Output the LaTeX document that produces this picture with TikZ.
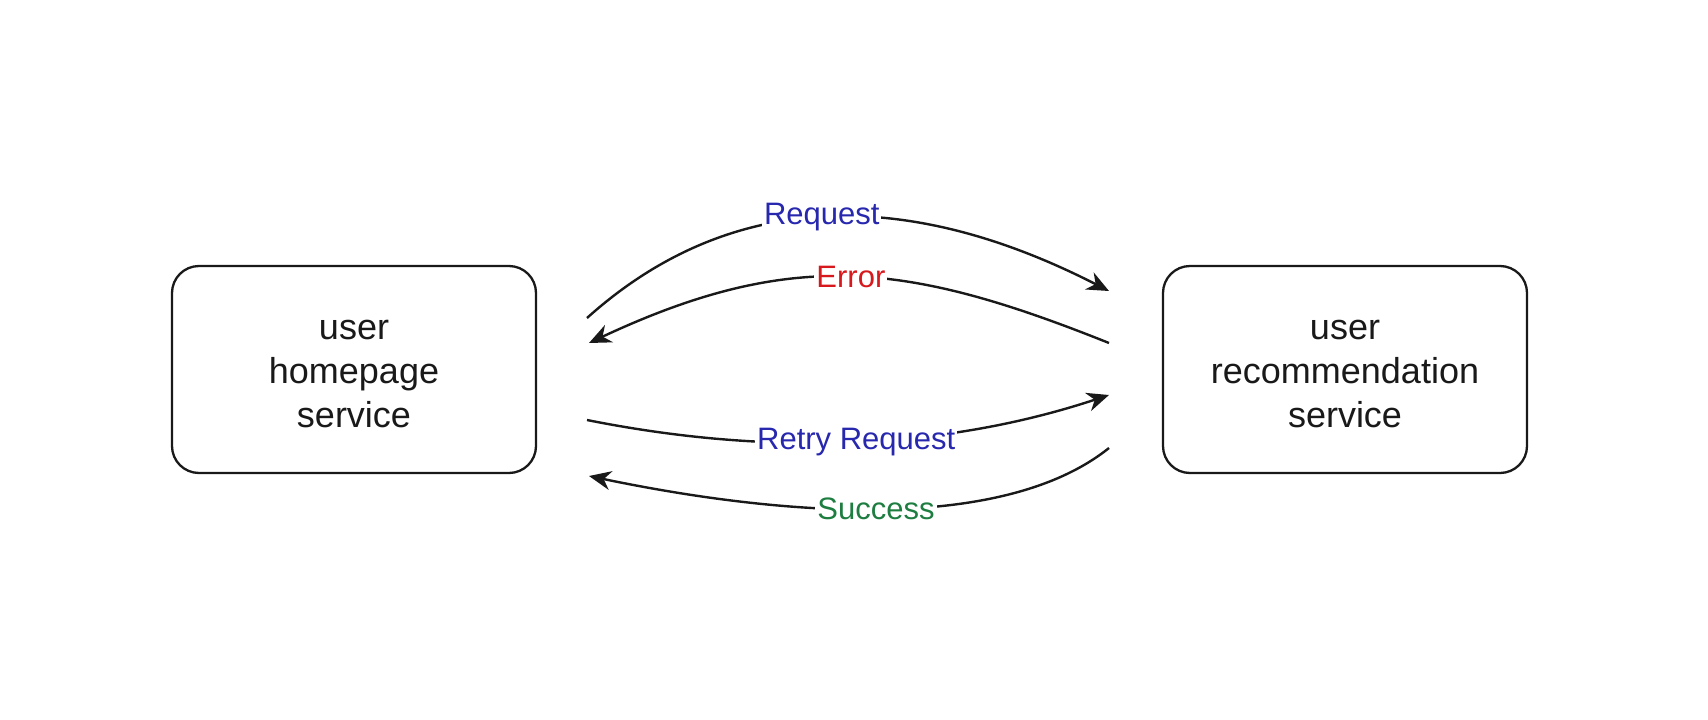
\documentclass[tikz,border=0pt]{standalone}
\usepackage{fontspec}
\setmainfont{Liberation Sans}
\usetikzlibrary{arrows.meta}
\definecolor{reqblue}{RGB}{40,40,175}
\definecolor{errred}{RGB}{215,25,30}
\definecolor{okgreen}{RGB}{30,125,65}
\definecolor{ink}{RGB}{25,25,25}
\newcommand{\boxlines}[1]{\raisebox{-5pt}[\height][\depth]{\begin{tabular}{@{}c@{}}#1\end{tabular}}}
\begin{document}
\begin{tikzpicture}[x=1pt,y=-1pt,
  svc/.style={draw=ink, line width=2.3pt, rounded corners=27pt, minimum width=364pt, minimum height=207pt,
    font=\fontsize{36}{44}\selectfont, text=ink},
  flow/.style={draw=ink, line width=2.4pt, -{Stealth[length=22pt,width=19pt,inset=7pt]}},
  lbl/.style={fill=white, inner sep=2pt, font=\fontsize{31}{36}\selectfont}]
\useasboundingbox (0,0) rectangle (1708,720);
\node[svc] (home) at (354,369.5) {\boxlines{user\\homepage\\service}};
\node[svc] (rec) at (1345,369.5) {\boxlines{user\\recommendation\\service}};
\coordinate (reqS) at (587,318);
\coordinate (reqE) at (1109,291);
\coordinate (errS) at (1109,343);
\coordinate (errE) at (589,343);
\coordinate (retS) at (587,420);
\coordinate (retE) at (1109,395);
\coordinate (sucS) at (1109,448);
\coordinate (sucE) at (589,476);
\draw[flow] (reqS) .. controls (726,193) and (900,184) .. (reqE)
  node[lbl, text=reqblue, pos=0.5] (reqL) {Request};
\draw[flow] (errS) .. controls (909,263) and (794,247) .. (errE)
  node[lbl, text=errred, pos=0.5] (errL) {Error};
\draw[flow] (retS) .. controls (772,457) and (946,449) .. (retE)
  node[lbl, text=reqblue, pos=0.5] (retL) {Retry Request};
\draw[flow] (sucS) .. controls (999,536) and (771,514) .. (sucE)
  node[lbl, text=okgreen, pos=0.5] (sucL) {Success};
\end{tikzpicture}
\end{document}
